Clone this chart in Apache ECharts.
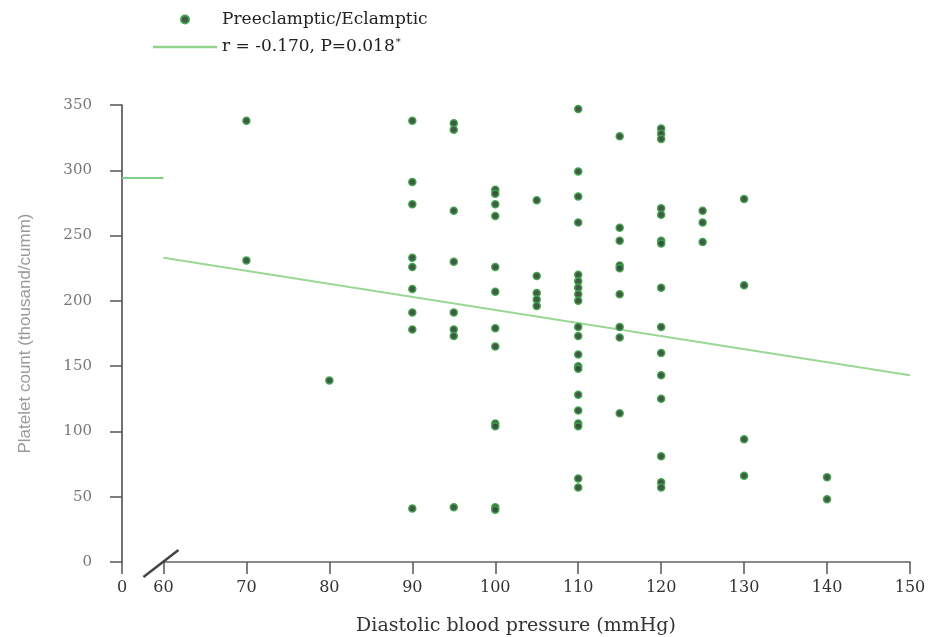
<!DOCTYPE html>
<html>
<head>
<meta charset="utf-8">
<script src="https://cdn.jsdelivr.net/npm/echarts@6/dist/echarts.min.js"></script>
<style>
  html, body { margin: 0; padding: 0; background: #fff; }
  #chart { width: 928px; height: 637px; }
</style>
</head>
<body>
<div id="chart"></div>
<script>
// diastolic blood pressure groups (mmHg) and platelet counts read per group (thousand/cumm)
const dbpLevels = [70, 80, 90, 95, 100, 105, 110, 115, 120, 125, 130, 140];
const plateletsByDbp = [
  [338, 231],
  [139],
  [338, 291, 274, 233, 226, 209, 191, 178, 41],
  [336, 331, 269, 230, 191, 178, 173, 42],
  [285, 282, 274, 265, 226, 207, 179, 165, 106, 104, 42, 40],
  [277, 219, 206, 201, 196],
  [347, 299, 280, 260, 220, 215, 210, 205, 200, 180, 173, 159, 150, 148, 128, 116, 106, 104, 64, 57],
  [326, 256, 246, 227, 225, 205, 180, 172, 114],
  [332, 328, 324, 271, 266, 246, 244, 210, 180, 160, 143, 125, 81, 61, 57],
  [269, 260, 245],
  [278, 212, 94, 66],
  [65, 48]
];

// regression line end points and the stub drawn across the axis break
const fitX = [60, 150];
const fitY = [233, 143];
const stubX = [0, 60];
const stubY = [294, 294];

const xTicks = { min: 0, max: 150, interval: 10 };
const yTicks = { min: 0, max: 350, interval: 50 };

const scatterName = 'Preeclamptic/Eclamptic';
const fitName = 'r = -0.170, P=0.018*';

const points = [];
dbpLevels.forEach((x, i) => {
  plateletsByDbp[i].forEach(y => points.push([x, y]));
});

const myChart = echarts.init(document.getElementById('chart'));
const option = {
  animation: false,
  grid: { left: 122, right: 18, top: 105, bottom: 75, outerBoundsMode: 'none' },
  legend: {
    orient: 'vertical',
    left: 148,
    top: 6,
    itemWidth: 64,
    itemHeight: 8,
    itemGap: 9,
    data: [
      { name: scatterName, icon: 'circle' },
      { name: fitName, icon: 'path://M0,0 L64,0 L64,2.5 L0,2.5 Z' }
    ],
    formatter: function (name) {
      return name === fitName ? 'r = -0.170, P=0.018{sup|*}' : name;
    },
    textStyle: {
      fontFamily: 'DejaVu Serif',
      fontSize: 17,
      color: '#222',
      rich: {
        sup: { fontFamily: 'DejaVu Serif', fontSize: 10, color: '#222', verticalAlign: 'top', padding: [0, 0, 10, 1] }
      }
    }
  },
  xAxis: {
    type: 'value',
    min: xTicks.min,
    max: xTicks.max,
    interval: xTicks.interval,
    breaks: [{ start: 0, end: 60, gap: 5 }],
    breakArea: { show: false },
    name: 'Diastolic blood pressure (mmHg)',
    nameLocation: 'middle',
    nameGap: 55,
    nameTextStyle: { fontFamily: 'DejaVu Serif', fontSize: 19, color: '#333' },
    axisLine: { show: true, lineStyle: { color: '#8a8a8a', width: 2 } },
    axisTick: { show: true, length: 12, lineStyle: { color: '#555', width: 1.5 } },
    axisLabel: { margin: 18, fontFamily: 'DejaVu Serif', fontSize: 16, color: '#333' },
    splitLine: { show: false }
  },
  yAxis: {
    type: 'value',
    min: yTicks.min,
    max: yTicks.max,
    interval: yTicks.interval,
    name: 'Platelet count (thousand/cumm)',
    nameLocation: 'middle',
    nameGap: 88,
    nameTextStyle: { fontFamily: 'Liberation Sans', fontSize: 17, color: '#999' },
    axisLine: { show: true, lineStyle: { color: '#444', width: 1.5 } },
    axisTick: { show: true, length: 12, lineStyle: { color: '#555', width: 1.5 } },
    axisLabel: { margin: 30, fontFamily: 'DejaVu Serif', fontSize: 15, color: '#777' },
    splitLine: { show: false }
  },
  series: [
    {
      name: fitName,
      type: 'line',
      data: fitX.map((x, i) => [x, fitY[i]]),
      symbol: 'none',
      lineStyle: { color: '#9ad896', width: 2.2 },
      itemStyle: { color: '#8fd48a' },
      z: 1
    },
    {
      name: 'stub',
      type: 'line',
      data: stubX.map((x, i) => [x, stubY[i]]),
      symbol: 'none',
      lineStyle: { color: '#7fcf86', width: 2 },
      z: 1
    },
    {
      name: scatterName,
      type: 'scatter',
      data: points,
      symbol: 'circle',
      symbolSize: 7,
      itemStyle: { color: '#37503b', borderColor: '#3ea34a', borderWidth: 1.5, opacity: 0.95 },
      z: 3
    }
  ]
};
myChart.setOption(option);

// axis break slash between 0 and 60
const p60 = myChart.convertToPixel({ gridIndex: 0 }, [60, 0]);
myChart.setOption({
  graphic: [{
    type: 'line',
    shape: { x1: p60[0] - 20, y1: p60[1] + 15, x2: p60[0] + 15, y2: p60[1] - 12 },
    style: { stroke: '#444', lineWidth: 2.5 },
    z: 10
  }]
});

window.addEventListener('resize', function () {
  myChart.resize();
});
</script>
</body>
</html>
